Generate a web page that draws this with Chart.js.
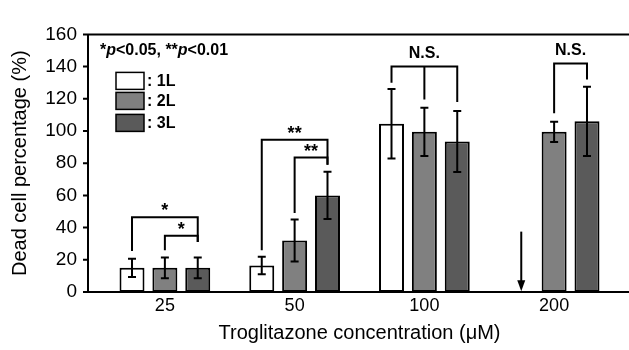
<!DOCTYPE html>
<html>
<head>
<meta charset="utf-8">
<script src="https://cdn.jsdelivr.net/npm/chart.js@4.4.0/dist/chart.umd.min.js"></script>
<style>
  html, body { margin: 0; padding: 0; background: #fff; }
  #wrap { width: 629px; height: 350px; }
</style>
</head>
<body>
<div id="wrap"><canvas id="chart" width="629" height="350"></canvas></div>
<script>
const concentrations = ['25', '50', '100', '200'];
const layers = ['1L', '2L', '3L'];
const layerColors = ['#ffffff', '#808080', '#5a5a5a'];

const mean1L = [15, 16.5, 104.5, null];
const err1L = [5.7, 5.4, 21.6, null];
const mean2L = [15, 32, 99.5, 99.5];
const err2L = [6.5, 13, 15, 6.3];
const mean3L = [15, 60, 93.5, 106];
const err3L = [6.5, 14.7, 19, 21.5];

const yTicks = [0, 20, 40, 60, 80, 100, 120, 140, 160];

// significance brackets: group, joined datasets, level of the top line, where each leg ends
const brackets = [
    { group: 0, sets: [0, 2], top: 46.5, legs: [25.5, 31], label: '*' },
    { group: 0, sets: [1, 2], top: 35, legs: [26, 31], label: '*' },
    { group: 1, sets: [0, 2], top: 94.5, legs: [26, 79], label: '**' },
    { group: 1, sets: [1, 2], top: 83.5, legs: [49, 79], label: '**' },
    { group: 2, sets: [0, 1, 2], top: 140, legs: [130, 119.5, 118], label: 'N.S.' },
    { group: 3, sets: [1, 2], top: 142, legs: [111, 132], label: 'N.S.' }
];
// arrow marking the missing 1L bar at 200 uM
const arrow = { group: 3, set: 0, from: 37.5, to: 0.5 };

const FONT = "'Liberation Sans', Arial, sans-serif";
const means = [mean1L, mean2L, mean3L];
const errs = [err1L, err2L, err3L];

function barX(chart, set, i) {
    const m = chart.getDatasetMeta(set);
    if (m.data[i] && isFinite(m.data[i].x)) return m.data[i].x;
    // fallback: step from the neighbouring bars
    const x1 = chart.getDatasetMeta(1).data[i].x;
    const x2 = chart.getDatasetMeta(2).data[i].x;
    return x1 + (set - 1) * (x2 - x1);
}

const extras = {
    id: 'extras',
    afterDatasetsDraw(chart) {
        const { ctx, chartArea: a, scales: { y } } = chart;
        ctx.save();
        ctx.strokeStyle = '#000';
        ctx.fillStyle = '#000';
        ctx.lineWidth = 2;
        ctx.lineCap = 'butt';

        // error bars
        for (let s = 0; s < 3; s++) {
            means[s].forEach((v, i) => {
                if (v === null) return;
                const x = barX(chart, s, i);
                const yt = y.getPixelForValue(v + errs[s][i]);
                const yb = y.getPixelForValue(v - errs[s][i]);
                ctx.beginPath();
                ctx.moveTo(x, yt); ctx.lineTo(x, yb);
                ctx.moveTo(x - 4, yt); ctx.lineTo(x + 4, yt);
                ctx.moveTo(x - 4, yb); ctx.lineTo(x + 4, yb);
                ctx.stroke();
            });
        }

        // brackets
        for (const b of brackets) {
            const xs = b.sets.map(s => barX(chart, s, b.group));
            const yTop = y.getPixelForValue(b.top);
            ctx.beginPath();
            ctx.moveTo(xs[0], yTop); ctx.lineTo(xs[xs.length - 1], yTop);
            xs.forEach((x, k) => {
                ctx.moveTo(x, yTop - 1);
                ctx.lineTo(x, y.getPixelForValue(b.legs[k]));
            });
            ctx.stroke();
            const cx = (xs[0] + xs[xs.length - 1]) / 2;
            ctx.textAlign = 'center';
            if (b.label === 'N.S.') {
                ctx.font = 'bold 16px ' + FONT;
                ctx.textBaseline = 'middle';
                ctx.fillText(b.label, cx, yTop - 13);
            } else {
                ctx.font = 'bold 18px ' + FONT;
                ctx.textBaseline = 'alphabetic';
                ctx.fillText(b.label, cx, yTop - 1);
            }
        }

        // arrow
        const ax = barX(chart, arrow.set, arrow.group);
        const ay1 = y.getPixelForValue(arrow.from);
        const ay2 = y.getPixelForValue(arrow.to);
        ctx.beginPath();
        ctx.moveTo(ax, ay1); ctx.lineTo(ax, ay2 - 8);
        ctx.stroke();
        ctx.beginPath();
        ctx.moveTo(ax - 4, ay2 - 11); ctx.lineTo(ax + 4, ay2 - 11); ctx.lineTo(ax, ay2);
        ctx.closePath();
        ctx.fill();

        // frame: left axis, bottom axis, top line
        const axX = a.left - 12;
        ctx.beginPath();
        ctx.moveTo(chart.width, a.top); ctx.lineTo(axX, a.top);
        ctx.lineTo(axX, a.bottom); ctx.lineTo(chart.width, a.bottom);
        for (const t of yTicks) {
            const ty = y.getPixelForValue(t);
            ctx.moveTo(axX - 5, ty); ctx.lineTo(axX, ty);
        }
        ctx.stroke();

        // p-value note
        let px = a.left;
        const py = a.top + 16;
        ctx.textAlign = 'left';
        ctx.textBaseline = 'middle';
        const parts = [['*', false], ['p', true], ['<0.05, **', false], ['p', true], ['<0.01', false]];
        for (const [txt, it] of parts) {
            ctx.font = (it ? 'italic ' : '') + 'bold 16px ' + FONT;
            ctx.fillText(txt, px, py);
            px += ctx.measureText(txt).width;
        }

        // legend
        ctx.lineWidth = 1.5;
        const lx = a.left + 16;
        const rows = [a.top + 38, a.top + 58, a.top + 80];
        layers.forEach((name, k) => {
            ctx.fillStyle = layerColors[k];
            ctx.fillRect(lx, rows[k], 28, 17);
            ctx.strokeRect(lx, rows[k], 28, 17);
            ctx.fillStyle = '#000';
            ctx.font = 'bold 16px ' + FONT;
            ctx.fillText(': ' + name, lx + 31, rows[k] + 9);
        });
        ctx.restore();
    }
};

new Chart(document.getElementById('chart'), {
    type: 'bar',
    data: {
        labels: concentrations,
        datasets: layers.map((name, k) => ({
            label: name,
            data: means[k],
            backgroundColor: layerColors[k],
            borderColor: '#000',
            borderWidth: 2,
            borderSkipped: false,
            categoryPercentage: 0.76,
            barPercentage: 0.76
        }))
    },
    options: {
        responsive: false,
        devicePixelRatio: 1,
        animation: false,
        layout: { padding: { top: 14, right: 10, left: 0, bottom: 0 } },
        plugins: { legend: { display: false }, tooltip: { enabled: false } },
        scales: {
            x: {
                grid: { display: false, drawTicks: false },
                border: { display: false },
                ticks: { color: '#000', font: { family: FONT, size: 18 }, padding: 3 },
                title: {
                    display: true,
                    text: 'Troglitazone concentration (\u03bcM)',
                    color: '#000',
                    font: { family: FONT, size: 20 },
                    padding: { top: 0, bottom: 5 }
                },
                afterFit(scale) { scale.height = 58; }
            },
            y: {
                min: 0,
                max: 160,
                grid: { display: false, drawTicks: false },
                border: { display: false },
                ticks: { stepSize: 20, color: '#000', font: { family: FONT, size: 19 }, padding: 23 },
                title: {
                    display: true,
                    text: 'Dead cell percentage (%)',
                    color: '#000',
                    font: { family: FONT, size: 20 },
                    padding: { top: 8, bottom: 0 }
                },
                afterFit(scale) { scale.width = 100; }
            }
        }
    },
    plugins: [extras]
});
</script>
</body>
</html>
